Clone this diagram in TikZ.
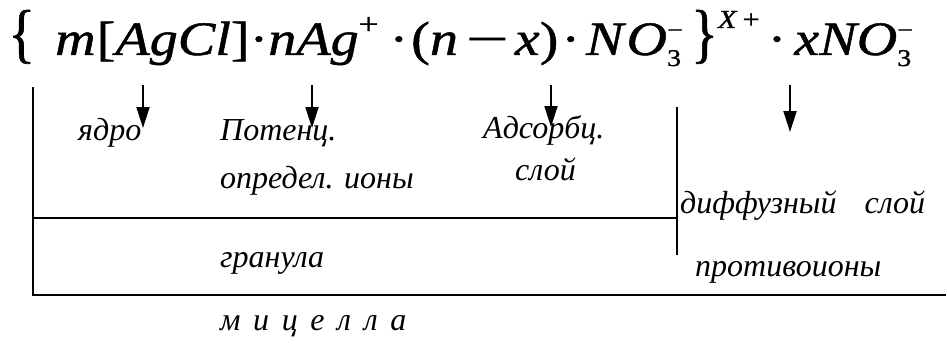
\documentclass[tikz,border=0pt]{standalone}
\usepackage{fontspec}
\setmainfont{Liberation Serif}
\newfontfamily\eqfont[FakeStretch=1.17,FakeBold=1]{Liberation Serif}
\usetikzlibrary{positioning,arrows.meta}
% charge and index stacked behind an ion
\newcommand{\ionidx}[2]{\rlap{\raisebox{-11pt}{\fontsize{24}{24}\selectfont\upshape #1}}\raisebox{17pt}{\fontsize{24}{24}\selectfont\upshape #2}}
\newcommand{\tallbr}[1]{\scalebox{1}[1.35]{\upshape #1}}
\newcommand{\hs}[1]{\hspace{#1pt}}
\tikzset{
  lbl/.style={font=\fontsize{32}{32}\selectfont\itshape,anchor=base west,inner sep=0pt},
  formula/.style={font=\eqfont\fontsize{48}{48}\selectfont\itshape,anchor=base west,inner sep=0pt},
  wall/.style={line width=1.8pt},
  pointer/.style={line width=1.8pt,-{Triangle[length=21pt,width=13pt]}}
}
\begin{document}
\begin{tikzpicture}[x=1pt,y=-1pt]
  \useasboundingbox (0,0) rectangle (947,345);
  % formula
  \node[formula] (eq) at (8,55) {\tallbr{\{}\hs{20}m\hs{1}{\upshape[}AgCl{\upshape]}{\upshape·}nAg\raisebox{21pt}{\fontsize{30}{30}\selectfont\upshape +}\hs{11}{\upshape·}\hs{3}{\upshape(}n\hs{8}\scalebox{1.35}[1]{\upshape −}\hs{6}x{\upshape)}\hs{3}{\upshape·}\hs{6}N\hs{3}O\ionidx{3}{−}\hs{8}\tallbr{\}}\raisebox{27pt}{\fontsize{26}{26}\selectfont X\hs{6}\upshape +}\hs{8}{\upshape·}\hs{8}xNO\ionidx{3}{−}};
  % pointers
  \foreach \i/\x/\t in {1/143/128,2/312/128,3/551/127,4/790/132} {
    \coordinate (top\i) at (\x,85);
    \coordinate (tip\i) at (\x,\t);
    \draw[pointer] (top\i) -- (tip\i);
  }
  % frame
  \coordinate (lt) at (33,87);
  \coordinate (lm) at (33,218);
  \coordinate (lb) at (33,295);
  \coordinate (rm) at (677,218);
  \coordinate (dt) at (677,107);
  \coordinate (db) at (677,255);
  \coordinate (rb) at (946,295);
  \draw[wall] (lt) -- (lb) -- (rb);
  \draw[wall] (lm) -- (rm);
  \draw[wall] (dt) -- (db);
  % labels
  \node[lbl] (core) at (78,140) {ядро};
  \node[lbl] (pot) at (220,140) {Потенц.};
  \node[lbl] (potb) at (220,188) {определ. ионы};
  \node[lbl] (ads) at (483,138) {Адсорбц.};
  \node[lbl] (adsb) at (515,180) {слой};
  \node[lbl] (diff) at (680,213) {диффузный\hs{28}слой};
  \node[lbl] (gran) at (220,267) {гранула};
  \node[lbl] (anti) at (695,276) {противоионы};
  \node[lbl] (mic) at (220,330) {\spaceskip=12.6pt м и ц е л л а};
\end{tikzpicture}
\end{document}
